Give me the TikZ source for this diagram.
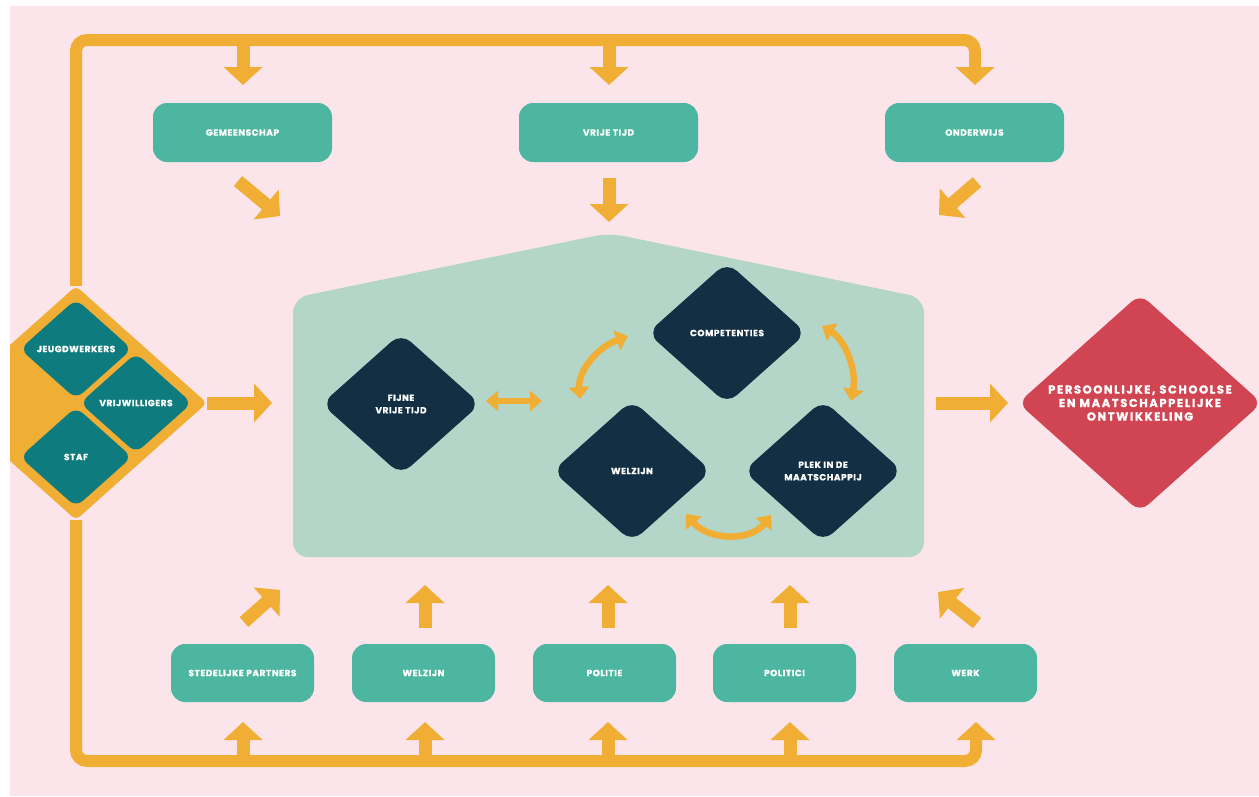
\documentclass[tikz,border=0pt]{standalone}
\usepackage{fontspec}
\setmainfont{Poppins}
\newfontfamily\labfont{Poppins}[LetterSpace=6, BoldFeatures={FakeBold=1.2}]
\newfontfamily\bigfont{Poppins}[LetterSpace=14, BoldFeatures={FakeBold=1.2}]
\usetikzlibrary{arrows.meta,shapes.geometric}
\definecolor{bgpink}{HTML}{FBE5EB}
\definecolor{orng}{HTML}{F0AE34}
\definecolor{tealbox}{HTML}{4DB6A0}
\definecolor{housegreen}{HTML}{B3D6C8}
\definecolor{navy}{HTML}{132F44}
\definecolor{darkteal}{HTML}{0E7C7E}
\definecolor{redd}{HTML}{D14452}
\tikzset{
  lab/.style={text=white, font=\labfont\bfseries\fontsize{9}{12.5}\selectfont, align=center},
  topbox/.style={lab, fill=tealbox, rounded corners=14pt, minimum width=179pt, minimum height=59pt, inner sep=0pt},
  botbox/.style={lab, fill=tealbox, rounded corners=14pt, minimum width=143pt, minimum height=58pt, inner sep=0pt},
  navydia/.style={lab, diamond, fill=navy, rounded corners=13pt, minimum width=159pt, minimum height=142pt, inner sep=0pt, aspect=1.12},
  tealdia/.style={lab, diamond, fill=darkteal, rounded corners=9pt, minimum width=112pt, minimum height=100pt, inner sep=0pt, aspect=1.12},
  bigarrow/.style={draw=orng, line width=13pt, -{Triangle[length=18pt,width=38pt]}},
  framearrow/.style={draw=orng, line width=12pt, rounded corners=11pt, -{Triangle[length=18pt,width=38pt]}},
  dblarrow/.style={draw=orng, line width=6.5pt, {Triangle[length=12pt,width=20pt]}-{Triangle[length=12pt,width=20pt]}},
}
\begin{document}
\begin{tikzpicture}[x=1pt,y=-1pt]
\useasboundingbox (0,0) rectangle (1259,796);
\fill[white] (0,0) rectangle (1259,796);
\fill[bgpink] (10,6) rectangle (1259,796);

% house
\fill[housegreen, rounded corners=15pt] (293,557) -- (293,298) -- (609,233) -- (924,298) -- (924,557) -- cycle;

% hub diamond with three staff diamonds
\begin{scope}
\clip (10,6) rectangle (1259,796);
\node[diamond, fill=orng, minimum width=262pt, minimum height=234pt, inner sep=0pt, rounded corners=5pt] (hub) at (76,403) {};
\node[tealdia] (jeugd) at (76,349) {JEUGDWERKERS};
\node[tealdia] (vrijw) at (136,403) {VRIJWILLIGERS};
\node[tealdia] (staf) at (76,457) {STAF};
\end{scope}

% top boxes
\node[topbox] (gem) at (242.5,132.5) {GEMEENSCHAP};
\node[topbox] (vrij) at (608.5,132.5) {VRIJE TIJD};
\node[topbox] (ond) at (974.5,132.5) {ONDERWIJS};

% bottom boxes
\node[botbox] (sted) at (242.5,673) {STEDELIJKE PARTNERS};
\node[botbox] (welzb) at (423.5,673) {WELZIJN};
\node[botbox] (pol) at (604.5,673) {POLITIE};
\node[botbox] (polc) at (784.5,673) {POLITICI};
\node[botbox] (werk) at (965.5,673) {WERK};

% navy diamonds
\node[navydia] (fijne) at (401,404) {FIJNE\\VRIJE TIJD};
\node[navydia] (comp) at (727,333) {COMPETENTIES};
\node[navydia] (welz) at (632,471) {WELZIJN};
\node[navydia] (plek) at (823,471) {PLEK IN DE\\MAATSCHAPPIJ};

% red diamond
\node[diamond, fill=redd, minimum width=244pt, minimum height=218pt, inner sep=0pt, rounded corners=11pt, aspect=1.12,
      text=white, font=\bigfont\bfseries\fontsize{11.5}{13.5}\selectfont, align=center] (ontw) at (1140,403)
      {PERSOONLIJKE, SCHOOLSE\\EN MAATSCHAPPELIJKE\\ONTWIKKELING};

% frame coordinates
\coordinate (tl) at (76,40);
\coordinate (tr) at (975,40);
\coordinate (trtip) at (975,85);
\coordinate (bl) at (76,761);
\coordinate (br) at (976,761);
\coordinate (brtip) at (976,722);
\draw[framearrow] (hub.north) -- (tl) -- (tr) -- (trtip);
\draw[framearrow] (hub.south) -- (bl) -- (br) -- (brtip);

% top arrows from frame
\foreach \x/\n in {243/ta, 609/tb}{
  \coordinate (\n s) at (\x,40);
  \coordinate (\n e) at (\x,85);
  \draw[bigarrow] (\n s) -- (\n e);
}
% bottom arrows from frame
\foreach \x/\n in {243/ba, 425/bb, 608/bc, 790/bd}{
  \coordinate (\n s) at (\x,761);
  \coordinate (\n e) at (\x,722);
  \draw[bigarrow] (\n s) -- (\n e);
}

% arrows from top boxes into house
\coordinate (d1s) at (238,181); \coordinate (d1e) at (280,216);
\coordinate (d2s) at (609,178); \coordinate (d2e) at (609,222);
\coordinate (d3s) at (977,182); \coordinate (d3e) at (939,215);
\draw[bigarrow] (d1s) -- (d1e);
\draw[bigarrow] (d2s) -- (d2e);
\draw[bigarrow] (d3s) -- (d3e);

% arrows from bottom boxes into house
\coordinate (u1s) at (244,622); \coordinate (u1e) at (280,590);
\coordinate (u2s) at (425,628); \coordinate (u2e) at (425,585);
\coordinate (u3s) at (608,628); \coordinate (u3e) at (608,585);
\coordinate (u4s) at (790,628); \coordinate (u4e) at (790,585);
\coordinate (u5s) at (977,623); \coordinate (u5e) at (938,592);
\foreach \n in {u1,u2,u3,u4,u5}{ \draw[bigarrow] (\n s) -- (\n e); }

% hub to house, house to outcome
\coordinate (hubtip) at (272,403);
\draw[bigarrow] (hub.east) -- (hubtip);
\coordinate (outs) at (936,403); \coordinate (oute) at (1008,403);
\draw[bigarrow] (outs) -- (oute);

% double arrows in house
\coordinate (h1) at (486,401); \coordinate (h2) at (542,401);
\draw[dblarrow] (h1) -- (h2);
\coordinate (c1a) at (628,336); \coordinate (c1b) at (580,399);
\draw[dblarrow] (c1a) .. controls (596,348) and (578,372) .. (c1b);
\coordinate (c2a) at (822,326); \coordinate (c2b) at (851,401);
\draw[dblarrow] (c2a) .. controls (845,340) and (857,370) .. (c2b);
\coordinate (c3a) at (686,514); \coordinate (c3b) at (771,515);
\draw[dblarrow] (c3a) .. controls (708,540) and (750,542) .. (c3b);
\end{tikzpicture}
\end{document}
